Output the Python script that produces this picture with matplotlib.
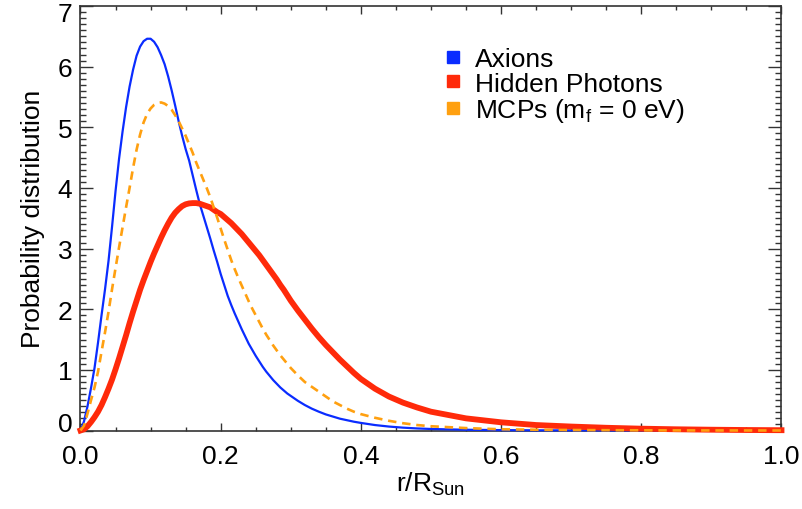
import numpy as np
import matplotlib
matplotlib.use("Agg")
import matplotlib.pyplot as plt
import matplotlib.transforms as mtransforms
from matplotlib.lines import Line2D
from matplotlib.ticker import MultipleLocator

plt.rcParams['font.family'] = ['Liberation Sans', 'DejaVu Sans']
plt.rcParams['mathtext.fontset'] = 'custom'
plt.rcParams['mathtext.rm'] = 'Liberation Sans'
plt.rcParams['mathtext.it'] = 'Liberation Sans:italic'

# =============================================================================
# DATOS
# =============================================================================
r = [0.000, 0.005, 0.010, 0.015, 0.020, 0.025, 0.030, 0.035, 0.040, 0.045,
     0.050, 0.055, 0.060, 0.065, 0.070, 0.075, 0.080, 0.085, 0.090, 0.095,
     0.100, 0.105, 0.110, 0.115, 0.120, 0.125, 0.130, 0.135, 0.140, 0.145,
     0.150, 0.155, 0.160, 0.165, 0.170, 0.175, 0.180, 0.185, 0.190, 0.195,
     0.200, 0.205, 0.210, 0.215, 0.220, 0.225, 0.230, 0.235, 0.240, 0.245,
     0.250, 0.255, 0.260, 0.265, 0.270, 0.275, 0.280, 0.285, 0.290, 0.295,
     0.300, 0.31, 0.32, 0.33, 0.34, 0.35, 0.36, 0.37, 0.38, 0.39,
     0.40, 0.42, 0.44, 0.46, 0.48, 0.50,
     0.55, 0.60, 0.65, 0.70, 0.75, 0.80, 0.85, 0.90, 0.95, 1.00]

axions = [0.00, 0.15, 0.40, 0.70, 1.03, 1.45, 1.90, 2.33, 2.80, 3.36,
          3.95, 4.48, 4.93, 5.33, 5.67, 5.95, 6.18, 6.33, 6.42, 6.46,
          6.46, 6.41, 6.32, 6.19, 6.04, 5.84, 5.61, 5.36, 5.10, 4.86,
          4.64, 4.45, 4.21, 3.97, 3.74, 3.55, 3.36, 3.17, 2.97, 2.78,
          2.58, 2.40, 2.22, 2.07, 1.93, 1.80, 1.67, 1.55, 1.43, 1.33,
          1.23, 1.14, 1.05, 0.97, 0.90, 0.83, 0.77, 0.71, 0.66, 0.61,
          0.57, 0.49, 0.42, 0.36, 0.31, 0.265, 0.23, 0.195, 0.17, 0.145,
          0.125, 0.09, 0.065, 0.047, 0.034, 0.025,
          0.012, 0.006, 0.003, 0.002, 0.001, 0.0007, 0.0004, 0.0002, 0.0001, 0.0]

hidden_photons = [0.00, 0.02, 0.07, 0.14, 0.22, 0.31, 0.42, 0.55, 0.69, 0.84,
                  1.01, 1.19, 1.38, 1.57, 1.77, 1.96, 2.14, 2.32, 2.48, 2.63,
                  2.78, 2.92, 3.05, 3.18, 3.30, 3.41, 3.51, 3.59, 3.65, 3.70,
                  3.73, 3.745, 3.75, 3.75, 3.74, 3.72, 3.70, 3.68, 3.64, 3.60,
                  3.57, 3.52, 3.47, 3.42, 3.36, 3.30, 3.24, 3.17, 3.10, 3.03,
                  2.96, 2.89, 2.81, 2.73, 2.65, 2.57, 2.49, 2.40, 2.32, 2.23,
                  2.14, 1.98, 1.83, 1.68, 1.54, 1.41, 1.29, 1.17, 1.06, 0.95,
                  0.85, 0.69, 0.56, 0.46, 0.38, 0.31,
                  0.20, 0.135, 0.09, 0.065, 0.045, 0.03, 0.02, 0.013, 0.008, 0.005]

mcps = [0.00, 0.08, 0.28, 0.50, 0.71, 0.97, 1.30, 1.62, 1.96, 2.33,
        2.68, 3.02, 3.35, 3.68, 4.00, 4.33, 4.63, 4.88, 5.08, 5.22,
        5.31, 5.37, 5.40, 5.41, 5.39, 5.35, 5.29, 5.20, 5.10, 4.98,
        4.86, 4.72, 4.58, 4.42, 4.28, 4.14, 4.00, 3.85, 3.68, 3.51,
        3.33, 3.15, 2.98, 2.81, 2.66, 2.52, 2.39, 2.26, 2.13, 2.01,
        1.90, 1.79, 1.68, 1.58, 1.49, 1.40, 1.32, 1.24, 1.17, 1.10,
        1.03, 0.91, 0.80, 0.72, 0.64, 0.56, 0.48, 0.42, 0.36, 0.31,
        0.27, 0.21, 0.16, 0.12, 0.09, 0.07,
        0.04, 0.02, 0.013, 0.008, 0.005, 0.003, 0.002, 0.001, 0.0005, 0.0]

xticks = [0.0, 0.2, 0.4, 0.6, 0.8, 1.0]
xticklabels = ['0.0', '0.2', '0.4', '0.6', '0.8', '1.0']
yticks = [0, 1, 2, 3, 4, 5, 6, 7]

etiquetas = ['Axions', 'Hidden Photons', r'MCPs (m$_\mathrm{f}$ = 0 eV)']
colores = ['#0a2cff', '#ff2a0a', '#ffa010']

# =============================================================================
# FIGURA
# =============================================================================
FS = 19
fig = plt.figure(figsize=(8.03, 5.10), dpi=100)
ax = fig.add_axes([80.5 / 803, 1 - 431.5 / 510, 701 / 803, 424.5 / 510])

ax.plot(r, axions, color=colores[0], lw=1.6, clip_on=False, zorder=3)
ax.plot(r, hidden_photons, color=colores[1], lw=4.2, clip_on=False, zorder=4)
ax.plot(r, mcps, color=colores[2], lw=1.9, ls=(0, (3.2, 2.2)), clip_on=False, zorder=5)

ax.set_xlim(0, 1)
ax.set_ylim(0, 7)
ax.set_xticks(xticks)
ax.set_xticklabels(xticklabels)
ax.set_yticks(yticks)
ax.xaxis.set_minor_locator(MultipleLocator(0.05))
ax.yaxis.set_minor_locator(MultipleLocator(0.1))

ax.tick_params(axis='both', which='both', direction='in', top=True, right=True,
               labelsize=FS, color='#333333', width=1.0)
ax.tick_params(axis='x', which='major', length=6, pad=10)
ax.tick_params(axis='x', which='minor', length=3)
ax.tick_params(axis='y', which='major', length=9.5, pad=6)
ax.tick_params(axis='y', which='minor', length=4.5)
for s in ax.spines.values():
    s.set_linewidth(1.2)
    s.set_color('#333333')

# etiquetas 0 y 7 desplazadas hacia dentro (como en el original)
fig.canvas.draw()
yt = ax.yaxis.get_major_ticks()
lab0 = yt[0].label1
lab0.set_transform(lab0.get_transform() + mtransforms.ScaledTranslation(0, 0.09, fig.dpi_scale_trans))
lab7 = yt[-1].label1
lab7.set_transform(lab7.get_transform() + mtransforms.ScaledTranslation(0, -0.055, fig.dpi_scale_trans))

ax.set_xlabel(r'r/R$_\mathrm{Sun}$', fontsize=FS, labelpad=1)
ax.set_ylabel('Probability distribution', fontsize=FS, labelpad=9)

handles = [Line2D([], [], marker='s', ls='none', color=c, markersize=8.5) for c in colores]
ax.legend(handles, etiquetas, loc='upper left', bbox_to_anchor=(0.516, 0.903),
          frameon=False, fontsize=FS, handlelength=0.8, handletextpad=0.45,
          labelspacing=0.02, borderpad=0, borderaxespad=0)

fig.savefig('out.png', dpi=100)
